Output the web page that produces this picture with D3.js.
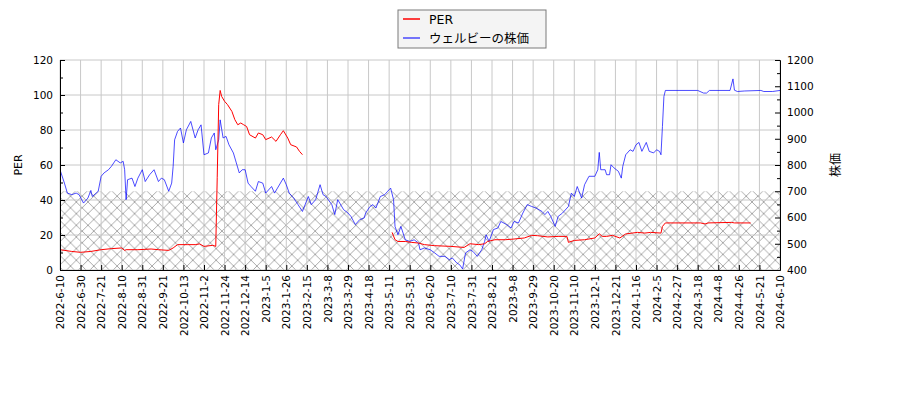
<!DOCTYPE html>
<html>
<head>
    <meta charset="utf-8">
    <title>PER と株価</title>
    <script src='https://d3js.org/d3.v7.min.js'></script>
    <style>
        html, body {margin: 0; padding: 0; background: white;}
        svg, svg text {font-family: 'DejaVu Sans', 'Noto Sans CJK JP', sans-serif;}
        .axis text {font-size: 10.5px; fill: black; font-family: 'DejaVu Sans', sans-serif;}
        .axis path, .axis line {stroke: black;}
    </style>
</head>
<body>
<div id="vis"></div>
<script>

// x is the trading day counted from 2022-6-10, one tick label every 14 days
var tickLabels = ["2022-6-10","2022-6-30","2022-7-21","2022-8-10","2022-8-31","2022-9-21","2022-10-13","2022-11-2",
    "2022-11-24","2022-12-14","2023-1-5","2023-1-26","2023-2-15","2023-3-8","2023-3-29","2023-4-18","2023-5-11",
    "2023-5-31","2023-6-20","2023-7-10","2023-7-31","2023-8-21","2023-9-8","2023-9-29","2023-10-20","2023-11-10",
    "2023-12-1","2023-12-21","2024-1-16","2024-2-5","2024-2-27","2024-3-18","2024-4-8","2024-4-26","2024-5-21","2024-6-10"];

var priceDay = [0,3,5,8,11,13,16,19,21,22,26,28,30,33,35,38,41,43,44,45,46,49,51,53,56,58,61,64,67,69,71,74,76,77,78,80,
    82,84,86,89,92,94,96,98,101,103,105,106,108,109,111,113,115,118,120,122,124,126,128,130,133,135,138,140,144,146,148,
    152,154,156,159,162,165,169,171,174,177,179,181,185,187,189,193,196,198,201,204,207,208,211,213,215,218,221,223,225,
    227,228,230,232,235,238,241,244,245,248,252,255,258,262,265,267,270,272,274,276,279,281,284,287,289,290,292,295,298,
    300,304,307,309,312,315,318,321,324,328,330,332,334,337,339,342,346,348,350,352,355,357,360,364,366,367,368,371,372,
    374,375,377,380,382,383,385,388,390,392,394,396,399,401,404,406,408,409,410,411,412,434,438,440,442,456,458,459,461,
    466,477,479,485,490];
var price = [782,731,693,687,693,687,655,674,703,680,700,757,770,782,795,820,808,814,782,668,744,750,718,750,782,737,763,
    782,737,750,744,700,731,795,896,928,941,884,934,966,903,934,953,839,846,903,922,858,896,972,903,909,877,846,808,770,
    782,782,731,718,700,737,731,693,718,693,712,750,725,693,674,649,623,680,649,668,725,687,680,649,611,668,630,617,604,
    573,592,598,617,642,649,636,680,687,700,712,668,566,534,566,515,509,515,503,477,484,477,465,452,452,439,446,427,420,
    404,465,477,471,452,477,509,534,509,554,560,585,573,560,585,579,617,649,642,636,623,611,623,604,566,604,617,642,693,
    680,718,674,725,757,757,782,848,782,782,763,763,801,789,776,750,795,839,858,852,877,886,852,886,852,846,858,852,839,
    947,1061,1084,1084,1074,1074,1084,1084,1128,1085,1080,1082,1084,1080,1080,1084];

var perDay = [0,8,14,21,28,35,42,44,45,53,62,67,74,77,80,87,92,95,98,104,106,107,108,109,110,112,114,117,119,121,123,125,
    127,129,133,135,138,140,144,147,150,152,155,157,161,163,165,190,226,228,230,235,239,244,248,255,266,275,279,285,289,
    291,296,303,309,316,321,325,332,339,345,346,350,357,364,367,369,372,376,381,385,393,398,402,409,410,412,436,439,441,
    457,459,470];
var per = [11.6,10.6,10.1,10.6,11.6,12.2,12.6,11.2,11.6,11.6,12.0,11.6,11.2,12.6,14.5,14.5,14.5,14.9,13.5,14.1,13.5,53,
    94.5,102.6,99.2,96.4,94.5,90.6,85.9,83,84,83,82,77.3,75.4,78.3,77.3,74.5,76,73.5,77.3,79.6,75.4,71.6,70.3,67.8,65.9,
    null,21.5,17.3,16.3,16.3,15.8,15.4,14.5,13.9,13.5,12.9,15.0,14.5,15.0,16.3,17.3,17.3,17.7,18.3,19.8,19.6,18.9,19.2,
    19.2,15.8,16.9,17.3,18.3,20.7,19.2,19.2,19.8,18.3,20.6,21.5,21.1,21.5,21.1,24.9,26.9,26.9,26.3,26.9,27.2,26.9,26.9];

var perTicks = [0,20,40,60,80,100,120];
var priceTicks = [400,500,600,700,800,900,1000,1100,1200];
var bandTop = 45; // hatched band, PER 0 - 45

var width = 900, height = 400;
var margin = {top: 60, bottom: 130, left: 60, right: 120};
var plotW = width - margin.left - margin.right;
var plotH = height - margin.top - margin.bottom;

var svg = d3.select('#vis').append('svg')
    .attr('width', width)
    .attr('height', height);

var defs = svg.append('defs');
var hp = 11.65;
var pattern = defs.append('pattern')
    .attr('id', 'hatch')
    .attr('patternUnits', 'userSpaceOnUse')
    .attr('x', 10.5).attr('y', 8)
    .attr('width', hp).attr('height', hp);
pattern.append('path')
    .attr('d', 'M0,0L' + hp + ',' + hp + 'M0,' + hp + 'L' + hp + ',0')
    .attr('stroke', '#a0a0a0')
    .attr('stroke-width', 0.9)
    .attr('fill', 'none');
defs.append('clipPath').attr('id', 'clip')
    .append('rect').attr('width', plotW).attr('height', plotH);

var g = svg.append('g')
    .attr('transform', 'translate(' + margin.left + ',' + margin.top + ')');

var x_scale = d3.scaleLinear().domain([0, 490]).range([0, plotW]);
var y_per = d3.scaleLinear().domain([0, 120]).range([plotH, 0]);
var y_price = d3.scaleLinear().domain([400, 1200]).range([plotH, 0]);
var tickDays = tickLabels.map(function(d, i) {return i * 14;});

// hatched band
g.append('rect')
    .attr('x', 0)
    .attr('y', y_per(bandTop))
    .attr('width', plotW)
    .attr('height', y_per(0) - y_per(bandTop))
    .attr('fill', 'url(#hatch)');

// grid
g.append('g').selectAll('line').data(tickDays).enter().append('line')
    .attr('x1', function(d) {return x_scale(d);})
    .attr('x2', function(d) {return x_scale(d);})
    .attr('y1', 0).attr('y2', plotH)
    .attr('stroke', '#c8c8c8').attr('stroke-width', 1);
g.append('g').selectAll('line').data(perTicks).enter().append('line')
    .attr('x1', 0).attr('x2', plotW)
    .attr('y1', function(d) {return y_per(d);})
    .attr('y2', function(d) {return y_per(d);})
    .attr('stroke', '#c8c8c8').attr('stroke-width', 1);

// lines
var lineArea = g.append('g').attr('clip-path', 'url(#clip)');
var priceLine = d3.line()
    .x(function(d, i) {return x_scale(priceDay[i]);})
    .y(function(d) {return y_price(d);});
lineArea.append('path')
    .datum(price)
    .attr('d', priceLine)
    .attr('fill', 'none')
    .attr('stroke', 'blue')
    .attr('stroke-opacity', 0.7)
    .attr('stroke-width', 1);
var perLine = d3.line()
    .defined(function(d) {return d !== null;})
    .x(function(d, i) {return x_scale(perDay[i]);})
    .y(function(d) {return y_per(d);});
lineArea.append('path')
    .datum(per)
    .attr('d', perLine)
    .attr('fill', 'none')
    .attr('stroke', '#ff0000')
    .attr('stroke-width', 1);

// axes, ticks point inward
g.append('g').attr('class', 'axis')
    .call(d3.axisLeft(y_per).tickValues(perTicks).tickSize(-5).tickSizeOuter(0).tickPadding(7));
g.append('g').attr('class', 'axis')
    .call(d3.axisLeft(y_per).tickValues(d3.range(10, 120, 20)).tickSize(-3).tickFormat('').tickSizeOuter(0));
g.append('g').attr('class', 'axis')
    .attr('transform', 'translate(' + plotW + ',0)')
    .call(d3.axisRight(y_price).tickValues(priceTicks).tickFormat(d3.format('d'))
        .tickSize(-5).tickSizeOuter(0).tickPadding(7));
g.append('g').attr('class', 'axis')
    .attr('transform', 'translate(' + plotW + ',0)')
    .call(d3.axisRight(y_price).tickValues(d3.range(450, 1200, 100)).tickSize(-3).tickFormat('').tickSizeOuter(0));
var xAxis = g.append('g').attr('class', 'axis')
    .attr('transform', 'translate(0,' + plotH + ')')
    .call(d3.axisBottom(x_scale).tickValues(tickDays)
        .tickFormat(function(d, i) {return tickLabels[i];})
        .tickSize(-5).tickSizeOuter(0));
xAxis.selectAll('text')
    .attr('y', 0).attr('x', -5).attr('dy', '0.35em')
    .attr('transform', 'rotate(-90)')
    .style('text-anchor', 'end');

// axis titles
svg.append('text')
    .attr('transform', 'translate(22,' + (margin.top + plotH / 2) + ') rotate(-90)')
    .attr('text-anchor', 'middle')
    .style('font-size', '11px')
    .text('PER');
svg.append('text')
    .attr('transform', 'translate(840,' + (margin.top + plotH / 2) + ') rotate(-90)')
    .attr('text-anchor', 'middle')
    .style('font-size', '12px')
    .text('株価');

// legend
var legend = svg.append('g').attr('transform', 'translate(398,10)');
legend.append('rect')
    .attr('width', 148).attr('height', 38)
    .attr('fill', '#f4f4f4').attr('stroke', '#7a7a7a').attr('stroke-width', 1);
var legendItems = [{name: 'PER', color: '#ff0000', op: 1}, {name: 'ウェルビーの株価', color: 'blue', op: 0.7}];
legendItems.forEach(function(d, i) {
    var row = legend.append('g').attr('transform', 'translate(0,' + (9 + i * 19) + ')');
    row.append('line')
        .attr('x1', 5).attr('x2', 22)
        .attr('stroke', d.color).attr('stroke-opacity', d.op).attr('stroke-width', 1.5);
    row.append('text')
        .attr('x', 31).attr('y', 4.5)
        .style('font-size', '12.5px')
        .text(d.name);
});

</script>
</body>
</html>
